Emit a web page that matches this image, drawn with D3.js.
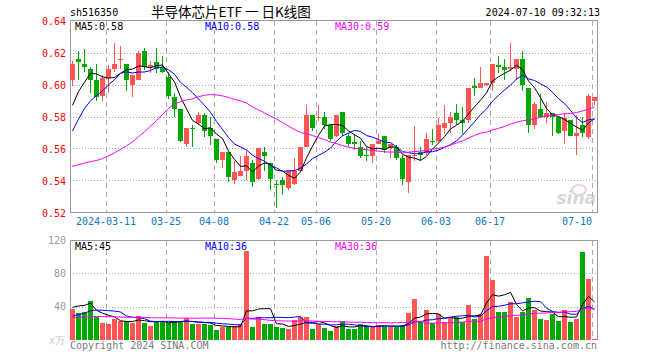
<!DOCTYPE html>
<html>
<head>
<meta charset="utf-8">
<script src="https://cdn.jsdelivr.net/npm/d3@7/dist/d3.min.js"></script>
<style>
body{margin:0;background:#fff}
svg text{font-family:"DejaVu Sans Mono",monospace;font-size:10px}
</style>
</head>
<body>
<svg id="kline" width="660" height="360"></svg>
<script>
// trading days shown (2024)
let dates = ["03-01","03-04","03-05","03-06","03-07","03-08","03-11","03-12","03-13","03-14","03-15",
  "03-18","03-19","03-20","03-21","03-22","03-25","03-26","03-27","03-28","03-29",
  "04-01","04-02","04-03","04-08","04-09","04-10","04-11","04-12","04-15","04-16","04-17","04-18","04-19",
  "04-22","04-23","04-24","04-25","04-26","04-29","04-30",
  "05-06","05-07","05-08","05-09","05-10","05-13","05-14","05-15","05-16","05-17",
  "05-20","05-21","05-22","05-23","05-24","05-27","05-28","05-29","05-30","05-31",
  "06-03","06-04","06-05","06-06","06-07","06-11","06-12","06-13","06-14",
  "06-17","06-18","06-19","06-20","06-21","06-24","06-25","06-26","06-27","06-28",
  "07-01","07-02","07-03","07-04","07-05","07-08","07-09","07-10"];

let open = [.603,.616,.613,.610,.603,.593,.604,.610,.616,.613,
  .600,.603,.621,.611,.614,.611,.605,.592,.585,.563,
  .573,.576,.581,.573,.566,.553,.558,.540,.543,.546,
  .551,.541,.558,.551,.538,.540,.535,.538,.546,.561,
  .581,.580,.580,.575,.568,.583,.568,.564,.561,.556,
  .555,.563,.568,.560,.561,.554,.539,.555,.558,.557,
  .565,.565,.573,.576,.582,.578,.578,.599,.598,.600,
  .601,.612,.611,.610,.610,.616,.598,.575,.585,.580,
  .582,.580,.571,.578,.568,.575,.567,.590];
let high = [.615,.621,.622,.611,.613,.606,.612,.626,.624,.613,
  .606,.621,.623,.615,.623,.618,.608,.595,.585,.573,
  .575,.583,.582,.580,.566,.558,.558,.552,.555,.559,
  .553,.560,.561,.551,.540,.542,.546,.554,.561,.587,
  .581,.587,.583,.575,.581,.583,.570,.569,.565,.561,
  .563,.569,.568,.563,.562,.556,.556,.574,.561,.570,
  .572,.579,.587,.583,.588,.586,.598,.604,.611,.601,
  .613,.618,.616,.626,.616,.621,.598,.589,.594,.589,
  .582,.580,.582,.578,.581,.580,.594,.592];
let low = [.599,.603,.608,.595,.590,.590,.595,.608,.610,.596,
  .592,.603,.609,.607,.607,.607,.591,.580,.564,.561,
  .561,.575,.567,.562,.551,.548,.539,.538,.543,.540,
  .536,.540,.546,.534,.523,.531,.534,.537,.545,.561,
  .571,.577,.572,.565,.567,.568,.561,.559,.554,.552,
  .551,.563,.557,.554,.553,.537,.532,.552,.552,.556,
  .562,.564,.569,.570,.575,.569,.576,.593,.598,.599,
  .596,.607,.603,.609,.603,.596,.570,.572,.580,.576,
  .568,.569,.563,.568,.556,.567,.566,.587];
let close = [.613,.614,.611,.603,.592,.604,.610,.613,.616,.603,
  .606,.620,.611,.612,.610,.608,.593,.585,.565,.573,
  .572,.581,.571,.568,.553,.558,.542,.545,.546,.555,
  .539,.560,.555,.541,.537,.537,.546,.546,.561,.581,
  .573,.580,.575,.566,.581,.570,.563,.563,.555,.555,
  .563,.565,.559,.563,.554,.541,.556,.556,.556,.566,
  .564,.575,.576,.580,.578,.576,.598,.598,.601,.601,
  .613,.611,.609,.611,.616,.600,.575,.588,.580,.582,
  .580,.570,.579,.568,.570,.570,.593,.592];
// volume, 万手
let volume = [37.6,32.8,33.6,46.8,27.2,20.8,19.6,24.8,23.2,22.4,
  20.8,28.8,20.8,16.8,22.8,22.8,20.8,22.8,21.6,26.0,
  19.2,19.2,19.2,18.0,12.0,16.0,16.0,16.8,19.2,106.8,
  16.0,27.2,18.8,19.2,16.0,14.8,12.8,24.0,27.2,28.0,
  13.2,19.2,14.8,11.2,16.8,22.8,13.6,13.6,19.2,16.8,
  16.0,18.0,16.0,16.0,16.0,18.0,32.8,49.2,21.2,36.0,
  20.0,30.8,21.6,28.0,28.0,22.0,42.0,25.6,31.2,100.8,
  72.0,33.6,33.6,46.0,28.0,33.6,50.8,36.0,25.6,24.0,
  31.2,23.2,36.4,21.6,25.6,105.6,73.2,1.6];
// sessions before the window, only feeding the moving averages
let priorClose = [.585,.580,.575,.572,.566,.562,.555,.548,
  .540,.530,.525,.515,.510,.502,
  .495,.480,.500,.525,.540,.551,
  .540,.545,.555,.560,.575,.571,.582,.575,.594];
let priorVolume = [30,28,25,27,24,26,29,31,27,25,23,28,30,26,24,22,25,27,26,25,
  16,17,17,18.4,23.6,24.8,29.6,34,70];

let tickDates = ["03-11","03-25","04-08","04-22","05-06","05-20","06-03","06-17","07-10"];
let tickLabels = ["2024-03-11","03-25","04-08","04-22","05-06","05-20","06-03","06-17","07-10"];
let priceTicks = [0.52,0.54,0.56,0.58,0.60,0.62,0.64];
let volTicks = [40,80,120];

let upColor = "#ff5555", downColor = "#00a800";
let maColors = {5: "#000000", 10: "#0000ff", 30: "#ff00ff"};

function movingAvg(vals, prior, n) {
    let all = prior.concat(vals);
    return vals.map((v, i) => d3.mean(all.slice(i + prior.length - n + 1, i + prior.length + 1)));
}

let svg = d3.select("#kline");
let left = 70, right = 598;
let x = d3.scaleBand().domain(dates).range([left, right]);
let y = d3.scaleLinear().domain([0.52, 0.64]).range([212.5, 20.5]);
let yv = d3.scaleLinear().domain([0, 120]).range([340, 240]);
let frameColor = "#9a9a9a";

// header
svg.append("text").attr("x", 70).attr("y", 16).attr("fill", "#000").text("sh516350");
svg.append("text").attr("x", 151).attr("y", 17).attr("fill", "#000")
   .style("font-family", "'Noto Sans CJK SC',sans-serif").style("font-size", "13.5px")
   .text("半导体芯片ETF 一 日K线图");
svg.append("text").attr("x", 600).attr("y", 16).attr("text-anchor", "end").attr("fill", "#000")
   .text("2024-07-10 09:32:13");

// grids
let grid = svg.append("g");
grid.selectAll("line.hp").data(priceTicks.slice(1, -1)).enter().append("line")
    .attr("x1", left).attr("x2", right).attr("y1", d => Math.round(y(d)) + 0.5).attr("y2", d => Math.round(y(d)) + 0.5)
    .attr("stroke", "#aaa").attr("stroke-dasharray", "1,2");
grid.selectAll("line.hv").data(volTicks.slice(0, -1)).enter().append("line")
    .attr("x1", left).attr("x2", right).attr("y1", d => Math.round(yv(d)) + 0.5).attr("y2", d => Math.round(yv(d)) + 0.5)
    .attr("stroke", "#aaa").attr("stroke-dasharray", "1,2");
tickDates.forEach(d => {
    let xx = x(d) + 0.5;
    grid.append("line").attr("x1", xx).attr("x2", xx).attr("y1", 21).attr("y2", 212)
        .attr("stroke", "#aaa").attr("stroke-dasharray", "5,4");
    grid.append("line").attr("x1", xx).attr("x2", xx).attr("y1", 241).attr("y2", 340)
        .attr("stroke", "#aaa").attr("stroke-dasharray", "5,4");
});

// frames
svg.append("rect").attr("x", left + 0.5).attr("y", 20.5).attr("width", right - left - 1).attr("height", 192)
   .attr("fill", "none").attr("stroke", frameColor);
svg.append("path").attr("d", `M${left + 0.5},340V240.5H${right - 0.5}V340`)
   .attr("fill", "none").attr("stroke", frameColor);

// sina watermark
let wm = svg.append("g").attr("opacity", 0.55);
wm.append("ellipse").attr("cx", 579).attr("cy", 190).attr("rx", 7).attr("ry", 5).attr("fill", "none").attr("stroke", "#f4a0a0").attr("stroke-width", 2);
wm.append("text").attr("x", 596).attr("y", 204).attr("text-anchor", "end").attr("fill", "#b8b8b8")
  .style("font-family", "'DejaVu Sans',sans-serif").style("font-size", "17px").style("font-weight", "bold").style("font-style", "italic").text("sina");

// candles
let candles = svg.append("g").attr("shape-rendering", "crispEdges");
let rows = dates.map((d, i) => ({d: d, o: open[i], h: high[i], l: low[i], c: close[i], v: volume[i]}));
candles.selectAll("rect.wick").data(rows).enter().append("rect")
    .attr("x", r => x(r.d) + 2).attr("width", 1)
    .attr("y", r => Math.round(y(r.h)))
    .attr("height", r => Math.max(1, Math.round(y(r.l)) - Math.round(y(r.h))))
    .attr("fill", r => r.c >= r.o ? upColor : downColor);
candles.selectAll("rect.body").data(rows).enter().append("rect")
    .attr("x", r => x(r.d)).attr("width", 5)
    .attr("y", r => Math.round(y(Math.max(r.o, r.c))))
    .attr("height", r => Math.max(1, Math.round(y(Math.min(r.o, r.c))) - Math.round(y(Math.max(r.o, r.c)))))
    .attr("fill", r => r.c >= r.o ? upColor : downColor);
candles.selectAll("rect.vol").data(rows).enter().append("rect")
    .attr("x", r => x(r.d)).attr("width", 5)
    .attr("y", r => Math.round(yv(r.v)))
    .attr("height", r => 340 - Math.round(yv(r.v)))
    .attr("fill", r => r.c >= r.o ? upColor : downColor);

// moving averages
[5, 10, 30].forEach(n => {
    let mp = movingAvg(close, priorClose, n);
    let mv = movingAvg(volume, priorVolume, n);
    svg.append("path").datum(mp)
       .attr("d", d3.line().x((v, i) => x(dates[i]) + 2.5).y(v => y(v)))
       .attr("fill", "none").attr("stroke", maColors[n]).attr("stroke-width", 1);
    svg.append("path").datum(mv)
       .attr("d", d3.line().x((v, i) => x(dates[i]) + 2.5).y(v => yv(v)))
       .attr("fill", "none").attr("stroke", maColors[n]).attr("stroke-width", 1);
    let lx = {5: 75, 10: 205, 30: 335}[n];
    svg.append("text").attr("x", lx).attr("y", 30).attr("fill", maColors[n])
       .text("MA" + n + ":" + mp[mp.length - 1].toFixed(2));
    svg.append("text").attr("x", lx).attr("y", 250).attr("fill", maColors[n])
       .text("MA" + n + ":" + Math.floor(mv[mv.length - 1]));
});

// axes
let pa = svg.append("g").attr("transform", `translate(${left},1)`)
    .call(d3.axisLeft(y).tickValues(priceTicks).tickSize(0).tickPadding(4).tickFormat(d3.format(".2f")));
pa.select(".domain").remove();
pa.selectAll("text").attr("fill", "#ff0000").style("font-size", "10px").style("font-family", "'DejaVu Sans Mono',monospace");

let va = svg.append("g").attr("transform", `translate(${left},0)`)
    .call(d3.axisLeft(yv).tickValues(volTicks).tickSize(0).tickPadding(4));
va.select(".domain").remove();
va.selectAll("text").attr("fill", "#999").style("font-size", "10px").style("font-family", "'DejaVu Sans Mono',monospace");
svg.append("text").attr("x", 65).attr("y", 344).attr("text-anchor", "end").attr("fill", "#c8c8c8").text("x万");

let da = svg.append("g").attr("transform", "translate(0,217.5)")
    .call(d3.axisBottom(x).tickValues(tickDates).tickSize(0).tickPadding(0)
        .tickFormat(d => tickLabels[tickDates.indexOf(d)]));
da.select(".domain").remove();
da.selectAll(".tick").attr("transform", d => `translate(${x(d)},0)`);
da.selectAll("text").attr("fill", "#0a78c8").style("font-size", "10px").style("font-family", "'DejaVu Sans Mono',monospace")
  .attr("text-anchor", (d, i) => i === tickDates.length - 1 ? "end" : "middle");

// footer
svg.append("text").attr("x", 70).attr("y", 349).attr("fill", "#7a7a7a").text("Copyright 2024 SINA.COM");
svg.append("text").attr("x", 597).attr("y", 349).attr("text-anchor", "end").attr("fill", "#7a7a7a").text("http://finance.sina.com.cn");
</script>
</body>
</html>
